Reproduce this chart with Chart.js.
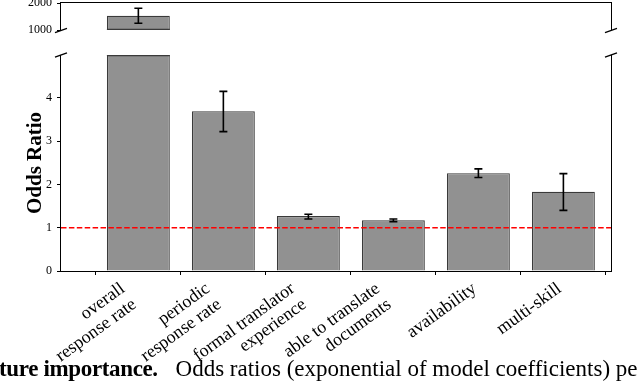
<!DOCTYPE html>
<html><head><meta charset="utf-8">
<script src="https://cdn.jsdelivr.net/npm/chart.js@4"></script>
<style>
html,body{margin:0;padding:0;background:#fff;}
#wrap{position:relative;width:640px;height:385px;overflow:hidden;background:#fff;}
canvas{position:absolute;left:0;top:0;}
#cap{position:absolute;left:-1px;top:357px;white-space:nowrap;font-family:'Liberation Serif',serif;font-size:23px;line-height:23px;color:#000;}
#cap b{letter-spacing:-0.35px;}
#cap span{margin-left:12px;}
</style></head><body>
<div id="wrap">
<canvas id="lower" width="640" height="385"></canvas>
<canvas id="upper" width="640" height="40"></canvas>
<div id="cap"><b>ture importance.</b> <span>Odds ratios (exponential of model coefficients) pe</span></div>
</div>
<script>
// ---- data ----
const categories = [
  ['overall', 'response rate'],
  ['periodic', 'response rate'],
  ['formal translator', 'experience'],
  ['able to translate', 'documents'],
  ['availability'],
  ['multi-skill']
];
const oddsRatio = [1530, 3.69, 1.27, 1.17, 2.26, 1.83];
const errLow    = [1248, 3.22, 1.20, 1.14, 2.16, 1.40];
const errHigh   = [1804, 4.15, 1.31, 1.20, 2.36, 2.25];
const lowerTicks = [0, 1, 2, 3, 4];
const upperTicks = [1000, 2000];
const refLine = 1;
const yTitle = 'Odds Ratio';

// ---- style ----
const FILL = '#919191', EDGE = '#3a3a3a';
const SERIF = "'Liberation Serif', serif";
const ROT = 36 * Math.PI / 180, XFONT = 18, XLH = 19.6;

function spines(ctx, a, top, bottom) {
  ctx.save();
  ctx.strokeStyle = '#000'; ctx.lineWidth = 1;
  ctx.beginPath();
  const l = a.left - 0.5, r = a.right + 0.5;
  if (top) { ctx.moveTo(l, a.top - 0.5); ctx.lineTo(r, a.top - 0.5); }
  if (bottom) { ctx.moveTo(l, a.bottom + 0.5); ctx.lineTo(r, a.bottom + 0.5); }
  ctx.moveTo(l, a.top - (top ? 1 : 0)); ctx.lineTo(l, a.bottom + (bottom ? 1 : 0));
  ctx.moveTo(r, a.top - (top ? 1 : 0)); ctx.lineTo(r, a.bottom + (bottom ? 1 : 0));
  ctx.stroke();
  ctx.restore();
}
function breakMarks(ctx, a, yEdge) {
  ctx.save();
  ctx.strokeStyle = '#000'; ctx.lineWidth = 1.3;
  [a.left, a.right].forEach(x => {
    ctx.beginPath();
    ctx.moveTo(x - 6, yEdge + 2.2); ctx.lineTo(x + 6, yEdge - 2.2);
    ctx.stroke();
  });
  ctx.restore();
}
// rotated, right-aligned multi-line category labels at the x scale's tick pixels
function drawXLabels(chart) {
  const ctx = chart.ctx, xs = chart.scales.x, a = chart.chartArea;
  ctx.save();
  ctx.fillStyle = '#000';
  ctx.font = XFONT + 'px ' + SERIF;
  ctx.textAlign = 'right';
  ctx.textBaseline = 'alphabetic';
  const sin = Math.sin(ROT), xh = 0.46 * XFONT;
  categories.forEach((lines, i) => {
    const tx = xs.getPixelForValue(i);
    const n = lines.length;
    const px = tx - 6 - (n - 1) * XLH * sin;
    const py = a.bottom + 13;
    ctx.save();
    ctx.translate(px, py);
    ctx.rotate(-ROT);
    lines.forEach((line, k) => ctx.fillText(line, 0, xh + k * XLH));
    ctx.restore();
  });
  ctx.restore();
}

function extrasPlugin(isLower) {
  return {
    id: 'extras' + (isLower ? 'L' : 'U'),
    afterDatasetsDraw(chart) {
      const ctx = chart.ctx, a = chart.chartArea, y = chart.scales.y;
      const meta = chart.getDatasetMeta(0);
      ctx.save();
      ctx.beginPath();
      ctx.rect(a.left, a.top - 1, a.right - a.left, a.bottom - a.top + 2);
      ctx.clip();
      // edges of bars cut by the axis limits
      ctx.strokeStyle = EDGE; ctx.lineWidth = 1.2;
      meta.data.forEach((bar, i) => {
        const v = oddsRatio[i], h = bar.width / 2;
        if (v > y.max) {
          ctx.beginPath(); ctx.moveTo(bar.x - h, a.top + 0.6); ctx.lineTo(bar.x + h, a.top + 0.6); ctx.stroke();
        }
        if (y.min > 0 && v > y.min) {
          ctx.beginPath(); ctx.moveTo(bar.x - h, a.bottom - 0.6); ctx.lineTo(bar.x + h, a.bottom - 0.6); ctx.stroke();
        }
      });
      // reference line
      if (isLower) {
        const yp = y.getPixelForValue(refLine);
        ctx.strokeStyle = '#ff0000'; ctx.lineWidth = 1.5; ctx.setLineDash([5.5, 2.4]);
        ctx.beginPath(); ctx.moveTo(a.left, yp); ctx.lineTo(a.right, yp); ctx.stroke();
        ctx.setLineDash([]);
      }
      // error bars
      ctx.strokeStyle = '#000'; ctx.lineWidth = 1.6;
      meta.data.forEach((bar, i) => {
        const x = bar.x, y1 = y.getPixelForValue(errLow[i]), y2 = y.getPixelForValue(errHigh[i]);
        ctx.beginPath();
        ctx.moveTo(x, y1); ctx.lineTo(x, y2);
        ctx.moveTo(x - 4, y1); ctx.lineTo(x + 4, y1);
        ctx.moveTo(x - 4, y2); ctx.lineTo(x + 4, y2);
        ctx.stroke();
      });
      ctx.restore();
      if (isLower) { spines(ctx, a, false, true); breakMarks(ctx, a, a.top); drawXLabels(chart); }
      else { spines(ctx, a, true, false); breakMarks(ctx, a, a.bottom + 0.5); }
    }
  };
}

const points = oddsRatio.map((v, i) => ({ x: i, y: v }));

function makeChart(id, isLower) {
  const yTicks = isLower ? lowerTicks : upperTicks;
  return new Chart(document.getElementById(id), {
    type: 'bar',
    data: {
      datasets: [{
        data: points,
        backgroundColor: FILL,
        borderColor: EDGE,
        borderWidth: 1.2,
        borderSkipped: 'start',
        categoryPercentage: 1,
        barPercentage: 0.74,
        clip: isLower ? { left: 2, right: 2, top: 0, bottom: 2 } : { left: 2, right: 2, top: 2, bottom: 0 }
      }]
    },
    options: {
      responsive: false,
      animation: false,
      devicePixelRatio: 1,
      layout: { padding: isLower ? { left: 0, top: 55, right: 29, bottom: 0 } : { left: 0, top: 3, right: 29, bottom: 10 } },
      plugins: { legend: { display: false }, tooltip: { enabled: false } },
      scales: {
        x: {
          type: 'linear',
          display: isLower,
          offset: false,
          min: -0.91,
          max: 5.56,
          afterBuildTicks: s => { s.ticks = categories.map((c, i) => ({ value: i })); },
          afterFit: s => { s.height = isLower ? 385 - 271 : 0; s.paddingLeft = 0; s.paddingRight = 0; },
          grid: { display: true, drawOnChartArea: false, drawTicks: true, tickLength: 4, color: '#000', tickColor: '#000', lineWidth: 1 },
          border: { display: false },
          ticks: { display: false, autoSkip: false }
        },
        y: {
          min: isLower ? 0 : 1000,
          max: isLower ? 4.99 : 2000,
          afterBuildTicks: s => { s.ticks = yTicks.map(v => ({ value: v })); },
          afterFit: s => { s.width = 61; s.paddingTop = 0; s.paddingBottom = 0; },
          grid: { display: true, drawOnChartArea: false, drawTicks: true, tickLength: 4, color: '#000', tickColor: '#000', lineWidth: 1 },
          border: { display: false },
          ticks: {
            padding: 5,
            color: '#000',
            font: { family: SERIF, size: 12 },
            callback: v => String(v)
          },
          title: {
            display: isLower,
            text: yTitle,
            color: '#000',
            font: { family: SERIF, size: 21, weight: 'bold' },
            padding: { top: 23.4, bottom: 0 }
          }
        }
      }
    },
    plugins: [extrasPlugin(isLower)]
  });
}

makeChart('lower', true);
makeChart('upper', false);
</script>
</body></html>
